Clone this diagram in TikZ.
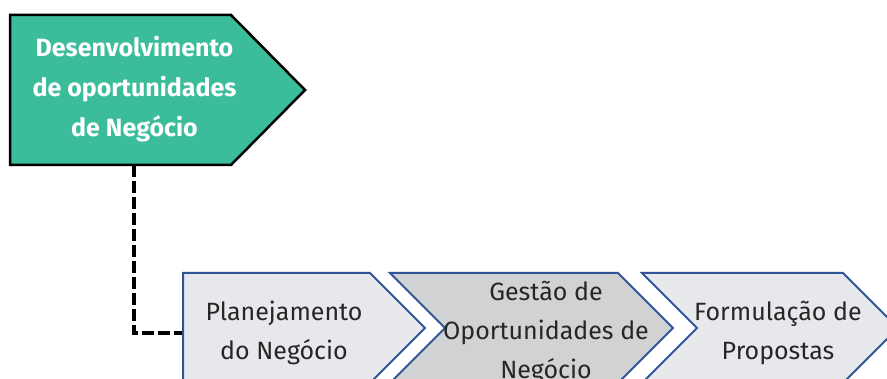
\documentclass[tikz,border=0pt]{standalone}
\usepackage{fontspec}
\setmainfont{Fira Sans}
\definecolor{devgreen}{RGB}{59,189,155}
\definecolor{stepblue}{RGB}{47,85,151}
\definecolor{steplight}{RGB}{231,232,236}
\definecolor{stepdark}{RGB}{209,210,212}
\begin{document}
\begin{tikzpicture}[x=1pt, y=-1pt,
    phase/.style={draw=stepblue, line width=2pt},
    phasetext/.style={align=center, font=\fontsize{25}{39}\selectfont, text=black!85}]
    \useasboundingbox (0,0) rectangle (887,379);
    % green head
    \draw[fill=devgreen, line width=2.5pt] (10,15) -- (231,15) -- (305,90) -- (231,165) -- (10,165) -- cycle;
    \node[phasetext, text=white, font=\fontsize{25}{40}\selectfont\bfseries] (dev) at (134.5,89)
        {Desenvolvimento\\de oportunidades\\de Negócio};
    % dashed link
    \coordinate (devfoot) at (134,165);
    \coordinate (planin) at (183,333);
    \draw[line width=3.5pt, dash pattern=on 12pt off 4pt] (devfoot) |- (planin);
    % chevrons
    \foreach \xl/\xr/\n/\col in {183/370/0/steplight, 390/618/55/stepdark, 642/843/55/steplight}
        \draw[phase, fill=\col] (\xl,273) -- (\xr,273) -- (\xr+55,328) -- (\xr,383) -- (\xl,383) -- (\xl+\n,328) -- cycle;
    \node[phasetext] (plan) at (284,333) {Planejamento\\do Negócio};
    \node[phasetext] (gest) at (546,332) {Gestão de\\Oportunidades de\\Negócio};
    \node[phasetext] (form) at (778,333) {Formulação de\\Propostas};
\end{tikzpicture}
\end{document}
